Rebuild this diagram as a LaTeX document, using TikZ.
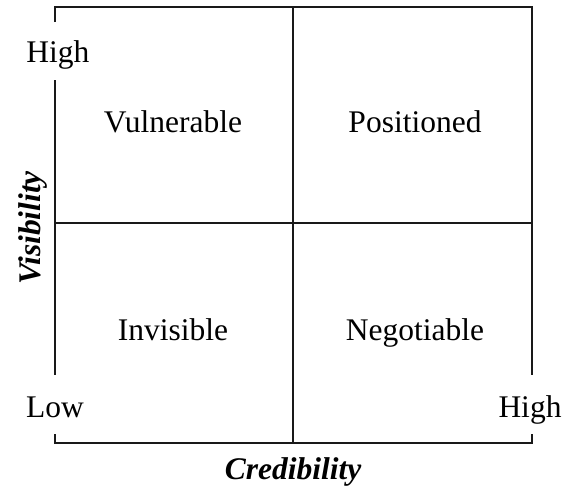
\documentclass[tikz,border=0pt]{standalone}
\usepackage{fontspec}
\setmainfont{Liberation Serif}
\begin{document}
\begin{tikzpicture}[
    x=1pt, y=-1pt,
    frame/.style={line width=1.4pt, black!90},
    quad/.style={font=\fontsize{31.5}{37}\selectfont, anchor=base, inner sep=0pt},
    axis/.style={font=\fontsize{31.5}{37}\selectfont\bfseries\itshape, anchor=base, inner sep=0pt}
]
   \useasboundingbox (0,0) rectangle (563,493);

   % Frame, with gaps for the scale ends
   \coordinate (tl) at (55,7);
   \coordinate (tr) at (532,7);
   \coordinate (bl) at (55,443);
   \coordinate (br) at (532,443);
   \draw[frame] (55,22) -- (tl) -- (tr) -- (532,375);
   \draw[frame] (55,80) -- (55,375);
   \draw[frame] (55,434) -- (bl) -- (br) -- (532,434);
   \draw[frame] (293,7) -- (293,443);
   \draw[frame] (55,223) -- (532,223);

   % Quadrants
   \node[quad] (vuln)  at (173,132) {Vulnerable};
   \node[quad] (pos)   at (415,132) {Positioned};
   \node[quad] (invis) at (173,340) {Invisible};
   \node[quad] (nego)  at (415,340) {Negotiable};

   % Scale ends
   \node[quad] (visHigh)  at (58,62)   {High};
   \node[quad] (visLow)   at (55,417)  {Low};
   \node[quad] (credHigh) at (530,417) {High};

   % Axis titles
   \node[axis, rotate=90] (visTitle) at (40,228) {Visibility};
   \node[axis] (credTitle) at (293,479) {Credibility};
\end{tikzpicture}
\end{document}
